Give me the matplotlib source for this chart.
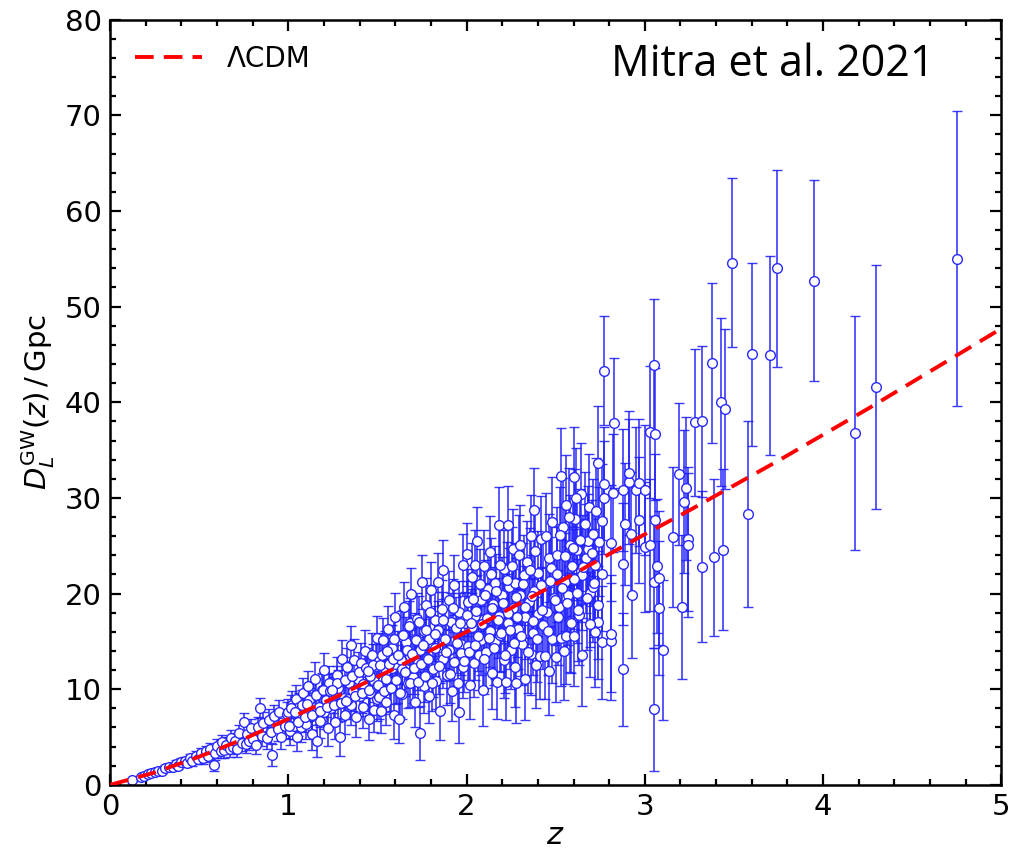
import numpy as np
import matplotlib
matplotlib.use('Agg')
import matplotlib.pyplot as plt
from matplotlib.ticker import MultipleLocator

# LCDM curve
z_lcdm = [0.0, 0.25, 0.5, 0.75, 1.0, 1.25, 1.5, 1.75, 2.0, 2.25, 2.5,
          2.75, 3.0, 3.25, 3.5, 3.75, 4.0, 4.25, 4.5, 4.75, 5.0]
dl_lcdm = [0.0, 1.3, 2.95, 4.8, 6.9, 9.05, 11.3, 13.6, 16.0, 18.5, 21.0,
           23.6, 26.2, 28.7, 31.3, 33.9, 36.6, 39.3, 42.1, 44.9, 47.7]

# simulated GW events (z, D_L in Gpc, 1-sigma error)
z_obs = [
    # z < 0.5
    0.12, 0.17, 0.19, 0.21, 0.23, 0.25, 0.27, 0.29, 0.31, 0.33,
    0.35, 0.37, 0.38, 0.40, 0.42, 0.43, 0.45, 0.46, 0.48, 0.49,
    # 0.5 - 1
    0.51, 0.52, 0.54, 0.55, 0.56, 0.58, 0.59, 0.60, 0.62, 0.63,
    0.64, 0.65, 0.67, 0.68, 0.69, 0.70, 0.71, 0.72, 0.74, 0.75,
    0.76, 0.77, 0.78, 0.79, 0.80, 0.82, 0.83, 0.84, 0.85, 0.86,
    0.88, 0.89, 0.90, 0.91, 0.92, 0.94, 0.95, 0.96, 0.98, 0.99,
    # 1 - 1.5
    1.00, 1.01, 1.02, 1.03, 1.04, 1.05, 1.06, 1.06, 1.07, 1.08,
    1.09, 1.10, 1.11, 1.12, 1.13, 1.13, 1.14, 1.15, 1.16, 1.17,
    1.18, 1.19, 1.20, 1.20, 1.21, 1.22, 1.23, 1.24, 1.25, 1.26,
    1.27, 1.28, 1.28, 1.29, 1.30, 1.31, 1.32, 1.33, 1.34, 1.35,
    1.35, 1.36, 1.37, 1.38, 1.39, 1.40, 1.41, 1.42, 1.42, 1.43,
    1.44, 1.45, 1.46, 1.47, 1.48, 1.48, 1.49, 1.50, 1.50, 1.46,
    # 1.5 - 2
    1.51, 1.51, 1.52, 1.53, 1.53, 1.54, 1.55, 1.55, 1.56, 1.57,
    1.58, 1.58, 1.59, 1.60, 1.60, 1.61, 1.62, 1.63, 1.63, 1.64,
    1.65, 1.66, 1.66, 1.67, 1.68, 1.68, 1.69, 1.70, 1.71, 1.71,
    1.72, 1.73, 1.74, 1.74, 1.75, 1.76, 1.76, 1.77, 1.78, 1.79,
    1.79, 1.80, 1.81, 1.82, 1.82, 1.83, 1.84, 1.84, 1.85, 1.86,
    1.87, 1.87, 1.88, 1.89, 1.90, 1.90, 1.91, 1.92, 1.93, 1.93,
    1.94, 1.95, 1.96, 1.96, 1.97, 1.98, 1.98, 1.99, 2.00, 1.97,
    # 2 - 2.5
    2.01, 2.01, 2.02, 2.03, 2.03, 2.04, 2.05, 2.05, 2.06, 2.07,
    2.08, 2.08, 2.09, 2.10, 2.10, 2.11, 2.12, 2.13, 2.13, 2.14,
    2.15, 2.16, 2.16, 2.17, 2.18, 2.18, 2.19, 2.20, 2.21, 2.21,
    2.22, 2.23, 2.23, 2.24, 2.25, 2.26, 2.26, 2.27, 2.27, 2.28,
    2.29, 2.30, 2.30, 2.31, 2.32, 2.33, 2.33, 2.34, 2.35, 2.36,
    2.36, 2.37, 2.38, 2.38, 2.39, 2.40, 2.40, 2.41, 2.42, 2.43,
    2.43, 2.44, 2.45, 2.46, 2.46, 2.47, 2.48, 2.48, 2.49, 2.50,
    # 2.5 - 2.65
    2.51, 2.52, 2.53, 2.53, 2.54, 2.55, 2.56, 2.56, 2.57, 2.58,
    2.58, 2.59, 2.60, 2.60, 2.61, 2.62, 2.62, 2.63, 2.64, 2.64,
    # z > 2.65
    2.65, 2.67, 2.68, 2.68, 2.69, 2.71, 2.71, 2.72, 2.72, 2.74,
    2.74, 2.76, 2.76, 2.76, 2.77, 2.77, 2.77, 2.81, 2.81, 2.81,
    2.82, 2.83, 2.88, 2.88, 2.88, 2.89, 2.91, 2.91, 2.92, 2.93,
    2.95, 2.97, 2.97, 3.00, 3.00, 3.03, 3.03, 3.05, 3.05, 3.05,
    3.06, 3.06, 3.07, 3.08, 3.08, 3.10, 3.16, 3.19, 3.21, 3.22,
    3.23, 3.24, 3.24, 3.28, 3.32, 3.32, 3.38, 3.39, 3.43, 3.44,
    3.45, 3.49, 3.58, 3.60, 3.70, 3.74, 3.95, 4.18, 4.30, 4.75,
    # second pass through the crowded part, 1 < z < 2.75
    1.005, 1.015, 1.035, 1.055, 1.075, 1.095, 1.115, 1.135, 1.155, 1.175,
    1.195, 1.215, 1.235, 1.255, 1.275, 1.295, 1.315, 1.335, 1.355, 1.375,
    1.395, 1.415, 1.435, 1.455, 1.475, 1.495, 1.105, 1.245, 1.325, 1.445,
    1.505, 1.515, 1.525, 1.535, 1.545, 1.555, 1.565, 1.575, 1.585, 1.595,
    1.605, 1.615, 1.625, 1.635, 1.645, 1.655, 1.665, 1.675, 1.685, 1.695,
    1.705, 1.715, 1.725, 1.735, 1.745, 1.755, 1.765, 1.775, 1.785, 1.795,
    1.805, 1.825, 1.845, 1.865, 1.885, 1.905, 1.925, 1.945, 1.965, 1.985,
    2.005, 2.015, 2.025, 2.035, 2.045, 2.055, 2.065, 2.075, 2.085, 2.095,
    2.105, 2.115, 2.125, 2.135, 2.145, 2.155, 2.165, 2.175, 2.185, 2.195,
    2.205, 2.215, 2.225, 2.235, 2.245, 2.255, 2.265, 2.275, 2.285, 2.295,
    2.305, 2.315, 2.325, 2.345, 2.355, 2.365, 2.375, 2.385, 2.395, 2.415,
    2.425, 2.445, 2.455, 2.475, 2.495,
    2.505, 2.515, 2.525, 2.535, 2.545, 2.555, 2.565, 2.575, 2.585, 2.595,
    2.605, 2.615, 2.625, 2.635, 2.645, 2.655, 2.665, 2.675, 2.685, 2.695,
    2.705, 2.715, 2.725, 2.735, 2.745,
]
dl_obs = [
    0.5, 0.8, 0.9, 1.1, 1.2, 1.3, 1.5, 1.5, 1.8, 1.9,
    1.9, 2.2, 2.0, 2.4, 2.5, 2.3, 2.8, 2.5, 3.0, 2.7,
    3.3, 2.8, 3.5, 3.0, 3.7, 2.1, 3.3, 4.1, 3.5, 4.5,
    3.6, 4.2, 3.7, 4.9, 4.0, 4.6, 3.8, 5.4, 4.4, 6.6,
    4.3, 5.3, 4.6, 5.9, 4.8, 4.2, 6.1, 8.0, 5.1, 6.5,
    4.9, 6.8, 5.5, 3.1, 7.2, 5.8, 7.6, 5.0, 6.2, 7.4,
    7.6, 5.6, 8.4, 6.2, 9.0, 5.0, 7.3, 8.1, 6.0, 9.6,
    7.7, 6.4, 10.3, 8.5, 5.3, 7.2, 9.2, 11.1, 4.6, 8.1,
    6.7, 9.9, 7.6, 12.0, 8.9, 5.9, 10.6, 8.0, 9.4, 6.6,
    11.5, 8.5, 10.1, 5.0, 13.2, 9.1, 7.3, 12.3, 10.7, 14.6,
    8.3, 9.8, 13.1, 7.1, 11.1, 9.3, 12.7, 8.1, 10.5, 14.0,
    11.7, 6.9, 9.6, 13.6, 7.8, 10.9, 12.4, 9.0, 15.4, 11.4,
    9.2, 12.9, 7.7, 15.1, 11.0, 13.7, 8.7, 11.9, 16.3, 10.1,
    14.3, 12.2, 7.3, 12.6, 17.6, 11.1, 6.9, 15.6, 13.1, 9.5,
    18.6, 12.1, 14.9, 10.7, 16.9, 13.5, 20.0, 11.3, 15.3, 8.7,
    17.3, 12.7, 5.4, 14.1, 21.2, 10.3, 16.1, 18.8, 13.3, 9.3,
    15.2, 20.4, 12.1, 17.2, 14.3, 10.9, 21.2, 16.2, 7.7, 18.4,
    13.2, 22.5, 15.3, 11.5, 19.3, 14.1, 17.0, 9.8, 12.8, 20.9,
    16.4, 10.6, 7.6, 18.1, 14.7, 23.0, 12.3, 16.9, 24.1, 13.8,
    14.5, 19.1, 10.4, 21.7, 16.5, 12.7, 23.0, 17.7, 25.5, 13.6,
    19.3, 15.1, 9.9, 22.9, 17.3, 13.9, 20.5, 16.1, 24.3, 11.7,
    18.9, 14.9, 21.1, 10.8, 17.7, 27.2, 15.7, 19.9, 13.1, 22.6,
    10.8, 16.9, 27.2, 20.7, 14.1, 24.7, 18.5, 12.3, 21.1, 10.6,
    16.3, 19.9, 25.1, 14.7, 21.9, 17.5, 11.1, 23.3, 19.1, 13.7,
    26.0, 15.9, 20.3, 28.7, 12.5, 17.9, 22.1, 13.5, 25.7, 16.7,
    20.9, 13.5, 18.1, 23.7, 11.9, 21.3, 15.3, 27.5, 19.5, 13.4,
    24.0, 18.6, 32.3, 15.4, 27.0, 21.2, 15.6, 29.3, 19.8, 25.1,
    17.0, 22.9, 32.2, 15.6, 27.8, 20.1, 24.6, 17.8, 30.4, 22.4,
    21.9, 23.7, 24.7, 25.5, 20.1, 26.2, 20.7, 23.0, 16.0, 33.7,
    17.0, 27.6, 22.0, 14.9, 30.0, 31.5, 43.3, 25.3, 15.0, 15.8,
    30.5, 37.8, 30.8, 23.1, 12.1, 27.3, 31.7, 32.6, 26.2, 19.8,
    30.8, 27.7, 31.6, 24.9, 30.8, 25.1, 36.9, 21.2, 43.9, 7.9,
    27.7, 36.7, 22.9, 21.6, 18.5, 14.1, 25.9, 32.5, 18.6, 29.6,
    31.0, 25.7, 25.1, 37.9, 38.0, 22.8, 44.1, 23.8, 40.0, 24.6,
    39.3, 54.6, 28.3, 45.0, 44.9, 54.0, 52.7, 36.8, 41.6, 55.0,
    6.2, 8.0, 7.6, 6.6, 8.4, 7.1, 8.9, 7.3, 9.4, 7.7,
    9.9, 8.1, 9.8, 8.3, 10.6, 8.6, 11.0, 9.0, 11.4, 9.3,
    11.8, 9.6, 12.2, 9.9, 12.5, 10.3, 8.5, 9.9, 8.8, 11.9,
    10.4, 12.5, 13.6, 9.8, 11.1, 14.0, 12.6, 10.1, 13.2, 15.3,
    11.0, 13.6, 9.6, 12.1, 15.7, 11.8, 14.1, 16.6, 10.7, 13.7,
    12.2, 15.1, 10.8, 17.0, 12.6, 14.6, 11.4, 16.2, 13.2, 18.1,
    10.6, 15.8, 12.4, 17.2, 13.9, 11.6, 18.5, 14.8, 16.9, 12.9,
    17.8, 13.9, 16.9, 19.4, 14.6, 18.2, 15.6, 21.0, 16.8, 13.2,
    19.8, 17.4, 15.4, 22.0, 18.5, 14.3, 20.3, 17.2, 23.0, 15.9,
    19.0, 13.6, 21.4, 18.0, 16.2, 22.9, 14.8, 19.6, 17.5, 24.0,
    15.6, 21.0, 18.6, 13.9, 22.5, 19.7, 17.1, 24.5, 15.2, 20.9,
    18.3, 26.0, 16.1, 22.7, 19.3,
    22.0, 17.5, 26.1, 20.6, 14.0, 23.9, 19.0, 28.0, 16.9, 24.8,
    21.5, 30.0, 18.3, 25.6, 13.6, 22.8, 27.3, 19.5, 29.1, 16.8,
    24.2, 21.1, 28.6, 18.8, 25.4,
]
dl_err = [
    0.08, 0.13, 0.15, 0.17, 0.19, 0.21, 0.24, 0.26, 0.28, 0.30,
    0.33, 0.36, 0.37, 0.40, 0.43, 0.45, 0.48, 0.50, 0.54, 0.56,
    0.55, 0.58, 0.60, 0.62, 0.64, 0.66, 0.68, 0.70, 0.72, 0.74,
    0.75, 0.76, 0.80, 0.81, 0.82, 0.84, 0.86, 0.87, 0.90, 0.92,
    0.93, 0.94, 0.96, 0.97, 0.99, 1.02, 1.04, 1.05, 1.07, 1.08,
    1.11, 1.13, 1.14, 1.16, 1.18, 1.21, 1.23, 1.24, 1.27, 1.29,
    1.4, 1.4, 1.4, 1.45, 1.45, 1.5, 1.5, 1.5, 1.5, 1.55,
    1.55, 1.6, 1.6, 1.6, 1.65, 1.65, 1.65, 1.7, 1.7, 1.7,
    1.75, 1.75, 1.75, 1.75, 1.8, 1.8, 1.8, 1.85, 1.85, 1.85,
    1.9, 1.9, 1.9, 1.95, 1.95, 1.95, 2.0, 2.0, 2.0, 2.05,
    2.05, 2.05, 2.1, 2.1, 2.1, 2.15, 2.15, 2.15, 2.15, 2.2,
    2.2, 2.2, 2.25, 2.25, 2.25, 2.25, 2.3, 2.3, 2.3, 2.25,
    2.3, 2.3, 2.3, 2.35, 2.35, 2.35, 2.4, 2.4, 2.4, 2.45,
    2.45, 2.45, 2.5, 2.5, 2.5, 2.5, 2.55, 2.55, 2.55, 2.6,
    2.6, 2.6, 2.6, 2.65, 2.65, 2.65, 2.7, 2.7, 2.7, 2.7,
    2.75, 2.75, 2.8, 2.8, 2.8, 2.8, 2.8, 2.85, 2.85, 2.85,
    2.9, 2.9, 2.9, 2.95, 2.95, 2.95, 3.0, 3.0, 3.0, 3.0,
    3.05, 3.05, 3.05, 3.1, 3.1, 3.1, 3.1, 3.15, 3.15, 3.15,
    3.2, 3.2, 3.2, 3.2, 3.25, 3.25, 3.25, 3.3, 3.3, 3.25,
    3.5, 3.5, 3.5, 3.55, 3.55, 3.55, 3.6, 3.6, 3.6, 3.65,
    3.65, 3.65, 3.7, 3.7, 3.7, 3.75, 3.75, 3.8, 3.8, 3.8,
    3.85, 3.85, 3.85, 3.9, 3.9, 3.9, 3.95, 3.95, 4.0, 4.0,
    4.0, 4.05, 4.05, 4.05, 4.1, 4.1, 4.1, 4.15, 4.15, 4.15,
    4.2, 4.2, 4.2, 4.25, 4.25, 4.3, 4.3, 4.3, 4.35, 4.35,
    4.35, 4.4, 4.4, 4.4, 4.45, 4.45, 4.45, 4.5, 4.5, 4.55,
    4.55, 4.55, 4.6, 4.6, 4.6, 4.65, 4.65, 4.65, 4.7, 4.7,
    5.0, 5.0, 5.05, 5.05, 5.1, 5.1, 5.1, 5.15, 5.15, 5.2,
    5.2, 5.2, 5.25, 5.25, 5.25, 5.3, 5.3, 5.3, 5.35, 5.35,
    5.7, 5.7, 5.7, 5.7, 5.7, 5.8, 5.8, 5.8, 5.8, 5.9,
    5.9, 5.9, 5.9, 5.9, 5.9, 5.9, 5.7, 6.1, 6.1, 6.1,
    6.2, 6.8, 6.4, 6.4, 5.9, 6.4, 6.5, 6.5, 6.5, 6.5,
    6.6, 6.6, 6.6, 6.8, 6.8, 6.9, 6.9, 6.9, 6.9, 6.4,
    6.9, 6.9, 7.0, 7.0, 7.0, 7.3, 7.3, 7.4, 7.5, 7.5,
    7.5, 7.5, 7.5, 7.7, 7.9, 7.9, 8.4, 8.2, 8.8, 8.4,
    8.4, 8.8, 9.7, 9.6, 10.4, 10.3, 10.5, 12.2, 12.8, 15.4,
    1.4, 1.4, 1.45, 1.5, 1.5, 1.55, 1.6, 1.6, 1.65, 1.7,
    1.7, 1.75, 1.8, 1.8, 1.85, 1.9, 1.95, 1.95, 2.0, 2.05,
    2.05, 2.1, 2.15, 2.2, 2.2, 2.25, 1.55, 1.8, 1.95, 2.15,
    2.3, 2.3, 2.3, 2.35, 2.35, 2.4, 2.4, 2.4, 2.45, 2.45,
    2.5, 2.5, 2.5, 2.5, 2.55, 2.55, 2.6, 2.6, 2.6, 2.65,
    2.65, 2.65, 2.7, 2.7, 2.7, 2.75, 2.75, 2.8, 2.8, 2.8,
    2.85, 2.9, 2.9, 2.95, 3.0, 3.0, 3.05, 3.1, 3.15, 3.2,
    3.5, 3.5, 3.55, 3.55, 3.6, 3.6, 3.65, 3.65, 3.7, 3.7,
    3.7, 3.75, 3.75, 3.8, 3.8, 3.85, 3.85, 3.9, 3.9, 3.95,
    3.95, 4.0, 4.0, 4.05, 4.05, 4.1, 4.1, 4.15, 4.15, 4.2,
    4.2, 4.25, 4.25, 4.3, 4.35, 4.35, 4.4, 4.4, 4.45, 4.5,
    4.5, 4.55, 4.6, 4.65, 4.7,
    5.0, 5.0, 5.05, 5.05, 5.1, 5.1, 5.15, 5.15, 5.2, 5.2,
    5.25, 5.25, 5.3, 5.3, 5.35, 5.4, 5.4, 5.45, 5.5, 5.5,
    5.55, 5.6, 5.6, 5.65, 5.7,
]

fig = plt.figure(figsize=(10.3, 8.55), dpi=100)
ax = fig.add_axes([0.107, 0.082, 0.865, 0.895])

ax.errorbar(z_obs, dl_obs, yerr=dl_err, fmt='o', ms=7, mfc='white',
            mec='#2828ff', mew=1.0, ecolor=(0.12, 0.12, 1.0, 0.88),
            elinewidth=1.2, capsize=3.5, capthick=1.0, zorder=2)
ax.plot(z_lcdm, dl_lcdm, '--', color='red', lw=2.8, dashes=(4.8, 2.6),
        label='ΛCDM', zorder=3)

ax.set_xlim(0, 5)
ax.set_ylim(0, 80)
ax.xaxis.set_major_locator(MultipleLocator(1))
ax.xaxis.set_minor_locator(MultipleLocator(0.2))
ax.yaxis.set_major_locator(MultipleLocator(10))
ax.yaxis.set_minor_locator(MultipleLocator(2))
ax.tick_params(which='both', direction='in', top=True, right=True,
               labelsize=21, width=1.6)
ax.tick_params(which='major', length=8, pad=6)
ax.tick_params(which='minor', length=4)
for s in ax.spines.values():
    s.set_linewidth(1.8)

ax.set_xlabel(r'$z$', fontsize=22, labelpad=0)
ax.set_ylabel(r'$D_L^{\rm GW}(z)\,/\,{\rm Gpc}$', fontsize=21, labelpad=6)

ax.legend(loc='upper left', frameon=False, fontsize=20, handlelength=2.4,
          handletextpad=0.9, borderaxespad=0.5)
ax.text(0.925, 0.941, 'Mitra et al. 2021', transform=ax.transAxes,
        ha='right', va='center', fontsize=31,
        family=['Open Sans', 'DejaVu Sans'])

fig.savefig('out.png', dpi=100)
